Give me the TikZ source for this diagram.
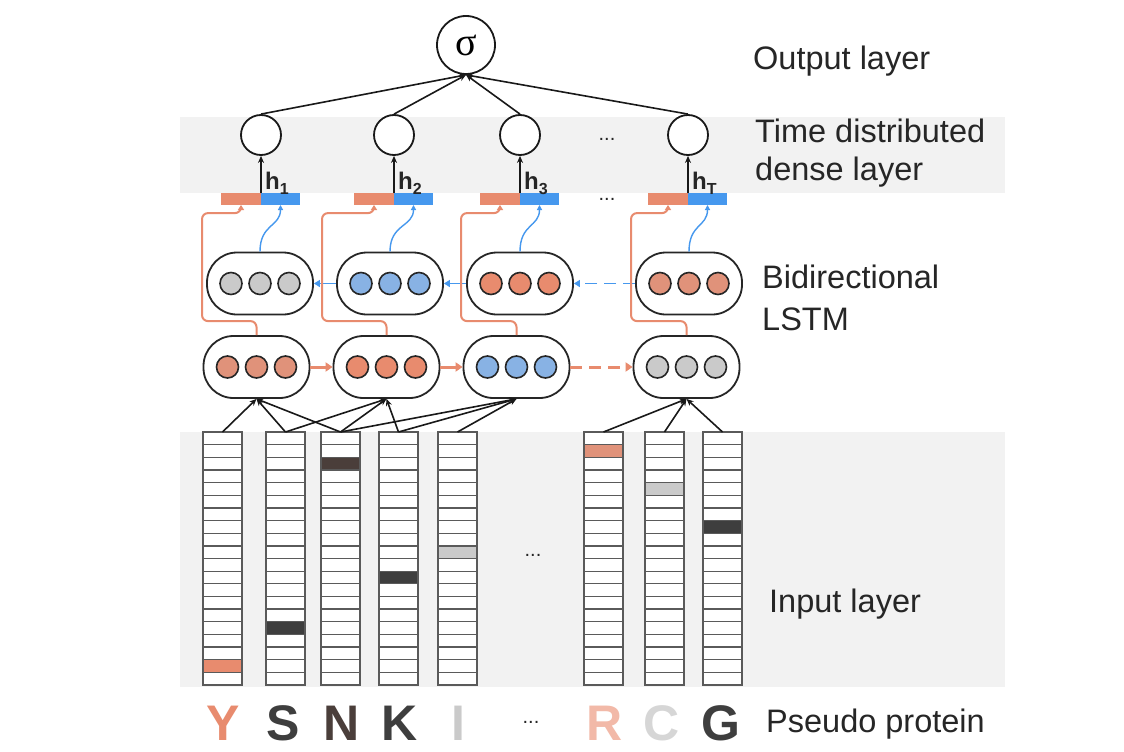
\documentclass[tikz,border=0pt]{standalone}
\usepackage{fontspec}
\setmainfont{Liberation Sans}
\newfontfamily\sigfont{Liberation Serif}
\usetikzlibrary{arrows.meta}
\definecolor{org}{RGB}{232,139,110}
\definecolor{orgs}{RGB}{224,146,122}
\definecolor{orgl}{RGB}{242,185,168}
\definecolor{blu}{RGB}{70,152,238}
\definecolor{blus}{RGB}{136,178,228}
\definecolor{gry}{RGB}{202,202,202}
\definecolor{lgry}{RGB}{214,214,214}
\definecolor{band}{RGB}{242,242,242}
\definecolor{txt}{RGB}{38,38,38}
\definecolor{dk}{RGB}{62,62,62}
\definecolor{dko}{RGB}{74,62,58}
\definecolor{cellc}{RGB}{90,90,90}
\begin{document}
\begin{tikzpicture}[x=1pt,y=-1pt,
 lstmbox/.style={draw=black!85,line width=1.8pt,rounded corners=30pt,minimum width=106pt,minimum height=62pt,inner sep=0pt,fill=white},
 lstmunit/.style={circle,draw=black!85,line width=1.6pt,minimum size=22pt,inner sep=0pt},
 densenode/.style={circle,draw=black!90,line width=1.8pt,minimum size=40pt,inner sep=0pt,fill=white},
 hbar/.style={minimum height=12pt,inner sep=0pt,outer sep=0pt},
 conn/.style={line width=1.6pt,draw=black!90,-{Stealth[length=7pt,width=6pt]}},
 fwd/.style={draw=org,line width=3pt,-{Triangle[length=7pt,width=9pt]}},
 bwd/.style={draw=blu,line width=1.6pt,-{Triangle[length=6pt,width=7pt]}},
 orgroute/.style={draw=org,line width=2pt,rounded corners=6pt,-{Triangle[length=5pt,width=6pt]}},
 bluroute/.style={draw=blu,line width=1.4pt,-{Triangle[length=5pt,width=5pt]}},
 lbl/.style={anchor=base west,inner sep=0pt,text=txt,font=\fontsize{32.5}{38}\selectfont},
 aa/.style={anchor=base,inner sep=0pt,font=\bfseries\fontsize{50}{50}\selectfont},
 dots/.style={inner sep=0pt,text=txt,font=\fontsize{20}{20}\selectfont},
 hlab/.style={anchor=base west,inner sep=0pt,text=txt,font=\bfseries\fontsize{24}{24}\selectfont},
 cellline/.style={draw=cellc,line width=1.3pt}
]
\useasboundingbox (0,0) rectangle (1124,752);
\fill[white] (0,0) rectangle (1124,752);
% bands
\fill[band] (180,117) rectangle (1005,193);
\fill[band] (180,432) rectangle (1005,687);

% output node
\node[densenode,minimum size=58pt] (sig) at (466,45) {\sigfont\fontsize{40}{40}\selectfont σ};

% bars, dense nodes
\foreach \n/\x in {1/261,2/394,3/520,T/688}{
  \node[hbar,fill=org,minimum width=40pt,anchor=east] (o\n) at (\x,199) {};
  \node[hbar,fill=blu,minimum width=39pt,anchor=west] (b\n) at (\x,199) {};
  \node[densenode] (d\n) at (\x,135) {};
  \draw[conn] (o\n.north east) -- (d\n.south);
  \draw[conn] (d\n.north) -- (sig.south);
}
\node[hlab] (h1) at (265,189) {h\raisebox{-5pt}{\fontsize{16}{16}\selectfont 1}};
\node[hlab] (h2) at (398,189) {h\raisebox{-5pt}{\fontsize{16}{16}\selectfont 2}};
\node[hlab] (h3) at (524,189) {h\raisebox{-5pt}{\fontsize{16}{16}\selectfont 3}};
\node[hlab] (hT) at (692,189) {h\raisebox{-5pt}{\fontsize{16}{16}\selectfont T}};
\node[dots] (dd1) at (607,139) {...};
\node[dots] (dd2) at (607,199) {...};

% LSTM lower (forward)
\foreach \n/\x/\c in {l1/256.5/orgs,l2/386.5/org,l3/516.5/blus,l4/686.5/gry}{
  \node[lstmbox] (\n) at (\x,367) {};
  \foreach \k/\dx in {a/-29,b/0,c/29}
    \node[lstmunit,fill=\c] (\n\k) at ({\x+\dx},367) {};
}
% LSTM upper (backward)
\foreach \n/\x/\c in {u1/260/gry,u2/390/blus,u3/520/org,u4/689/orgs}{
  \node[lstmbox] (\n) at (\x,283.5) {};
  \foreach \k/\dx in {a/-29,b/0,c/29}
    \node[lstmunit,fill=\c] (\n\k) at ({\x+\dx},283.5) {};
}
\draw[fwd] (l1.east) -- (l2.west);
\draw[fwd] (l2.east) -- (l3.west);
\draw[fwd,dash pattern=on 12pt off 7pt] (l3.east) -- (l4.west);
\draw[bwd] (u2.west) -- (u1.east);
\draw[bwd] (u3.west) -- (u2.east);
\draw[bwd,dash pattern=on 12pt off 7pt] (u4.west) -- (u3.east);

% routes to bars
\draw[orgroute] (l1.north) -- ++(0,-14) -- ++(-54.5,0) -- ++(0,-108) -| (o1.south);
\draw[orgroute] (l2.north) -- ++(0,-14) -- ++(-64.5,0) -- ++(0,-108) -| (o2.south);
\draw[orgroute] (l3.north) -- ++(0,-14) -- ++(-55.5,0) -- ++(0,-108) -| (o3.south);
\draw[orgroute] (l4.north) -- ++(0,-14) -- ++(-55.5,0) -- ++(0,-108) -| (oT.south);
\draw[bluroute] (u1.north) .. controls +(0,-28) and +(0,22) .. (b1.south);
\draw[bluroute] (u2.north) .. controls +(0,-28) and +(0,22) .. (b2.south);
\draw[bluroute] (u3.north) .. controls +(0,-28) and +(0,22) .. (b3.south);
\draw[bluroute] (u4.north) .. controls +(0,-28) and +(0,22) .. (bT.south);

% input columns
\foreach \i/\x/\h/\hc in {1/203/18/org,2/266/15/dk,3/321/2/dko,4/379/11/dk,5/438/9/gry,6/584/1/orgs,7/645/4/gry,8/703/7/dk}{
  \node[fill=white,minimum width=39pt,minimum height=253pt,inner sep=0pt,outer sep=0pt,anchor=north west] (c\i) at (\x,432) {};
  \fill[\hc] (\x,{432+\h*12.65}) rectangle ++(39,12.65);
  \foreach \k in {1,...,19}
    \draw[cellline] (\x,{432+\k*12.65}) -- ++(39,0);
  \draw[cellline] (c\i.north west) rectangle (c\i.south east);
}
\node[dots] (dd3) at (533,555) {...};

% input -> LSTM
\foreach \c/\l in {1/1,2/1,3/1,2/2,3/2,4/2,3/3,4/3,5/3,6/4,7/4,8/4}
  \draw[conn] (c\c.north) -- (l\l.south);

% letters
\node[aa,text=org] (pY) at (223,740) {Y};
\node[aa,text=dk] (pS) at (283,740) {S};
\node[aa,text=dko] (pN) at (342,740) {N};
\node[aa,text=dk] (pK) at (400,740) {K};
\node[aa,text=gry] (pI) at (458,740) {I};
\node[dots] (dd4) at (531,722) {...};
\node[aa,text=orgl] (pR) at (605,740) {R};
\node[aa,text=lgry] (pC) at (662,740) {C};
\node[aa,text=dk] (pG) at (721,740) {G};

% labels
\node[lbl] (t1) at (753,70) {Output layer};
\node[lbl] (t2) at (755,142) {Time distributed};
\node[lbl] (t3) at (755,180) {dense layer};
\node[lbl] (t4) at (762,288) {Bidirectional};
\node[lbl] (t5) at (762,330) {LSTM};
\node[lbl] (t6) at (769,612) {Input layer};
\node[lbl] (t7) at (766,732) {Pseudo protein};
\end{tikzpicture}
\end{document}
